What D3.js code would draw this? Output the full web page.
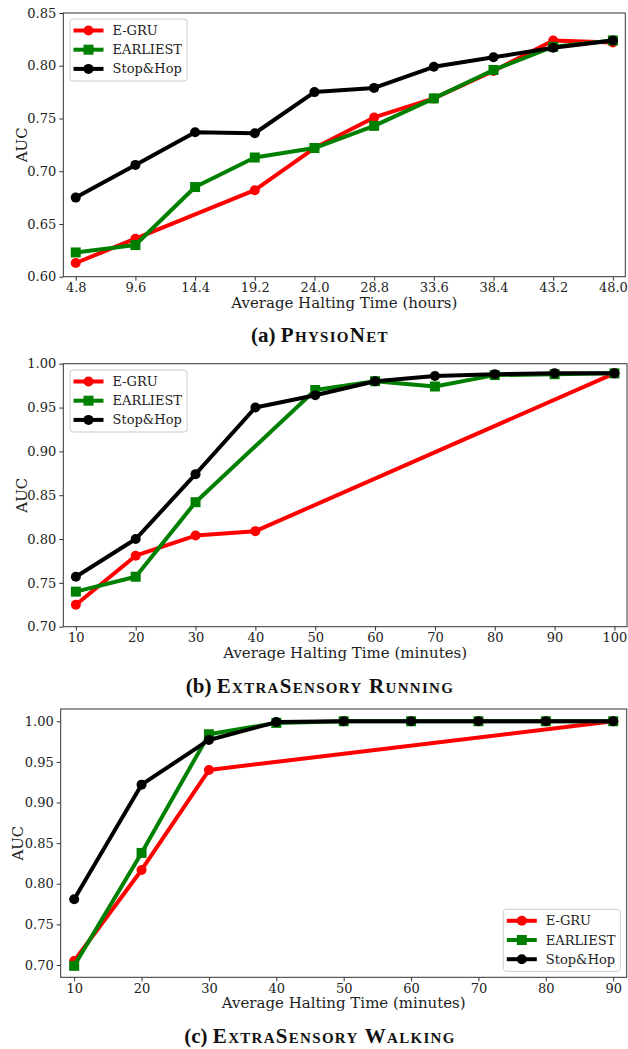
<!doctype html>
<html lang="en">
<head>
<meta charset="UTF-8">
<title>halting-auc</title>
<style>
  body { margin: 0; background: #fff; }
  svg text { font-family: "DejaVu Serif", serif; fill: #222; }
  .tick text { font-size: 13px; }
  .axis path, .axis line { stroke: #333; stroke-width: 1px; }
  .caption { font-family: "Liberation Serif", serif; font-weight: bold; font-size: 21px; fill: #111; }
  .caption .sc { font-variant: small-caps; letter-spacing: 1.3px; }
  .label { font-size: 15px; }
  .legend text { font-size: 13px; }
</style>
</head>
<body>
<svg width="628" height="1049"></svg>
<script src="https://cdn.jsdelivr.net/npm/d3@7"></script>
<script>
  // (a) PhysioNet
  const hoursA = [4.8, 9.6, 14.4, 19.2, 24.0, 28.8, 33.6, 38.4, 43.2, 48.0]
  const egruA = [0.613, 0.636, null, 0.682, 0.722, 0.751, 0.769, 0.795, 0.824, 0.822]
  const earliestA = [0.623, 0.630, 0.685, 0.713, 0.722, 0.743, 0.769, 0.796, 0.818, 0.824]
  const stophopA = [0.675, 0.706, 0.737, 0.736, 0.775, 0.779, 0.799, 0.808, 0.817, 0.824]

  // (b) ExtraSensory Running
  const minutesB = [10, 20, 30, 40, 50, 60, 70, 80, 90, 100]
  const egruB = [0.725, 0.781, 0.804, 0.809, null, null, null, null, null, 0.989]
  const earliestB = [0.740, 0.757, 0.842, null, 0.970, 0.980, 0.974, 0.987, 0.988, 0.989]
  const stophopB = [0.757, 0.800, 0.874, 0.950, 0.964, 0.980, 0.986, 0.988, 0.989, 0.989]

  // (c) ExtraSensory Walking
  const minutesC = [10, 20, 30, 40, 50, 60, 70, 80, 90]
  const egruC = [0.705, 0.817, 0.940, null, null, null, null, null, 1.000]
  const earliestC = [0.699, 0.838, 0.984, 0.998, 1.000, 1.000, 1.000, 1.000, 1.000]
  const stophopC = [0.781, 0.922, 0.977, 0.999, 1.000, 1.000, 1.000, 1.000, 1.000]

  const yTicksA = [0.60, 0.65, 0.70, 0.75, 0.80, 0.85]
  const yTicksBC = [0.70, 0.75, 0.80, 0.85, 0.90, 0.95, 1.00]
  const seriesNames = ['E-GRU', 'EARLIEST', 'Stop&Hop']
  const seriesColors = ['#ff0000', '#008000', '#000000']
  const seriesShapes = ['circle', 'square', 'circle']

  const svg = d3.select('svg')

  const panels = [
    {
      box: [63.3, 13, 625.3, 276.7], xs: hoursA, xDom: [3.8, 49.0], xFmt: d3.format('.1f'),
      yDom: [0.60, 0.85], yTicks: yTicksA, series: [egruA, earliestA, stophopA],
      xLabel: 'Average Halting Time (hours)', labelY: 308, aucX: 22,
      legend: [70, 19], capTag: '(a) ', capName: 'PhysioNet', capY: 342
    },
    {
      box: [63.3, 363.7, 627, 626.7], xs: minutesB, xDom: [7.9, 102.1], xFmt: d3.format('d'),
      yDom: [0.70, 1.00], yTicks: yTicksBC, series: [egruB, earliestB, stophopB],
      xLabel: 'Average Halting Time (minutes)', labelY: 658, aucX: 22,
      legend: [70, 370], capTag: '(b) ', capName: 'ExtraSensory Running', capY: 693
    },
    {
      box: [60.7, 709, 626.7, 977.3], xs: minutesC, xDom: [8, 92], xFmt: d3.format('d'),
      yDom: [0.6849, 1.0151], yTicks: yTicksBC, series: [egruC, earliestC, stophopC],
      xLabel: 'Average Halting Time (minutes)', labelY: 1008, aucX: 18,
      legend: [503.3, 909.3], capTag: '(c) ', capName: 'ExtraSensory Walking', capY: 1043
    }
  ]

  function drawMarker (g, shape, color, x, y) {
    if (shape === 'circle') {
      g.append('circle').attr('cx', x).attr('cy', y).attr('r', 5).attr('fill', color)
    } else {
      g.append('rect').attr('x', x - 5).attr('y', y - 5).attr('width', 10).attr('height', 10).attr('fill', color)
    }
  }

  panels.forEach(p => {
    const [x0, y0, x1, y1] = p.box
    const x = d3.scaleLinear().domain(p.xDom).range([x0, x1])
    const y = d3.scaleLinear().domain(p.yDom).range([y1, y0])

    // lines
    p.series.forEach((vals, i) => {
      const pts = p.xs.map((xv, j) => [xv, vals[j]]).filter(d => d[1] !== null)
      const g = svg.append('g')
      g.append('path')
        .datum(pts)
        .attr('fill', 'none')
        .attr('stroke', seriesColors[i])
        .attr('stroke-width', 4)
        .attr('stroke-linejoin', 'round')
        .attr('d', d3.line().x(d => x(d[0])).y(d => y(d[1])))
      pts.forEach(d => drawMarker(g, seriesShapes[i], seriesColors[i], x(d[0]), y(d[1])))
    })

    // axes
    svg.append('g').attr('class', 'axis')
      .attr('transform', `translate(0,${y1})`)
      .call(d3.axisBottom(x).tickValues(p.xs).tickFormat(p.xFmt).tickSize(4).tickPadding(2.5).tickSizeOuter(0))
    svg.append('g').attr('class', 'axis')
      .attr('transform', `translate(${x0},0)`)
      .call(d3.axisLeft(y).tickValues(p.yTicks).tickFormat(d3.format('.2f')).tickSize(4).tickPadding(3).tickSizeOuter(0))
    svg.append('rect')
      .attr('x', x0).attr('y', y0).attr('width', x1 - x0).attr('height', y1 - y0)
      .attr('fill', 'none').attr('stroke', '#333').attr('stroke-width', 1)
    svg.selectAll('.axis .domain').remove()

    // labels
    svg.append('text').attr('class', 'label')
      .attr('x', (x0 + x1) / 2).attr('y', p.labelY)
      .attr('text-anchor', 'middle').text(p.xLabel)
    svg.append('text').attr('class', 'label')
      .attr('transform', `translate(${p.aucX},${(y0 + y1) / 2}) rotate(-90)`)
      .attr('text-anchor', 'middle').attr('dy', '0.35em').text('AUC')
    const cap = svg.append('text').attr('class', 'caption')
      .attr('x', 320).attr('y', p.capY)
      .attr('text-anchor', 'middle')
    cap.append('tspan').text(p.capTag)
    cap.append('tspan').attr('class', 'sc').text(p.capName)

    // legend
    const [lx, ly] = p.legend
    const lg = svg.append('g').attr('class', 'legend')
    lg.append('rect')
      .attr('x', lx).attr('y', ly).attr('width', 117).attr('height', 62).attr('rx', 3)
      .attr('fill', '#fff').attr('fill-opacity', 0.8).attr('stroke', '#ccc')
    seriesNames.forEach((name, i) => {
      const cy = ly + 11.5 + i * 19.2
      lg.append('line')
        .attr('x1', lx + 3.5).attr('x2', lx + 33.5).attr('y1', cy).attr('y2', cy)
        .attr('stroke', seriesColors[i]).attr('stroke-width', 4)
      drawMarker(lg, seriesShapes[i], seriesColors[i], lx + 18.5, cy)
      lg.append('text').attr('x', lx + 42.5).attr('y', cy).attr('dy', '0.35em').text(name)
    })
  })
</script>
</body>
</html>
